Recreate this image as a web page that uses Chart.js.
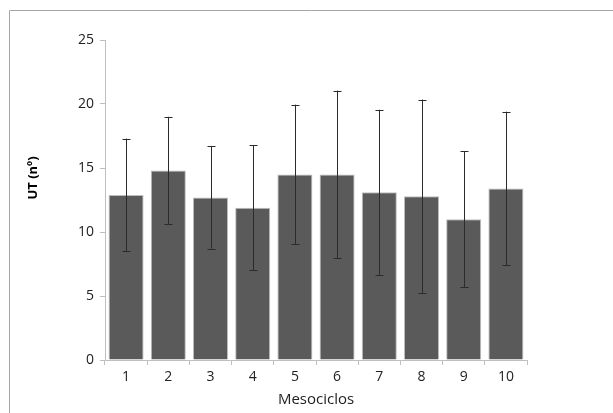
<!DOCTYPE html>
<html>
<head>
<meta charset="utf-8">
<script src="https://cdn.jsdelivr.net/npm/chart.js@4/dist/chart.umd.min.js"></script>
<style>
  html, body { margin: 0; padding: 0; background: #fff; }
  #wrap { width: 613px; height: 413px; position: relative; }
</style>
</head>
<body>
<div id="wrap"><canvas id="chart" width="613" height="413"></canvas></div>
<script>
// Data
const mesociclos = ['1', '2', '3', '4', '5', '6', '7', '8', '9', '10'];
const utMedia = [12.9, 14.8, 12.7, 11.9, 14.5, 14.5, 13.1, 12.8, 11.0, 13.4];
const utSD = [4.4, 4.2, 4.0, 4.9, 5.45, 6.55, 6.45, 7.55, 5.3, 6.0];
const yTicks = [0, 5, 10, 15, 20, 25];

const FONT = '"Open Sans", "Liberation Sans", sans-serif';

// frame + error bars + y title
const extras = {
  id: 'extras',
  beforeDraw(chart) {
    const c = chart.ctx;
    c.save();
    c.strokeStyle = '#a6a6a6';
    c.lineWidth = 1;
    c.beginPath();
    c.moveTo(9.5, 413);
    c.lineTo(9.5, 10.5);
    c.lineTo(613, 10.5);
    c.stroke();
    c.restore();
  },
  afterDatasetsDraw(chart) {
    const c = chart.ctx;
    const x = chart.scales.x, y = chart.scales.y;
    c.save();
    c.strokeStyle = '#2b2b2b';
    c.lineWidth = 1;
    utMedia.forEach((m, i) => {
      const px = Math.round(x.getPixelForValue(i)) + 0.5;
      const top = y.getPixelForValue(m + utSD[i]);
      const bot = y.getPixelForValue(m - utSD[i]);
      c.beginPath();
      c.moveTo(px, top); c.lineTo(px, bot);
      c.moveTo(px - 4, Math.round(top) + 0.5); c.lineTo(px + 4, Math.round(top) + 0.5);
      c.moveTo(px - 4, Math.round(bot) + 0.5); c.lineTo(px + 4, Math.round(bot) + 0.5);
      c.stroke();
    });
    // y axis title
    c.translate(33, 178);
    c.rotate(-Math.PI / 2);
    c.fillStyle = '#000';
    c.font = 'bold 13px ' + FONT;
    c.textAlign = 'center';
    c.textBaseline = 'middle';
    c.fillText('UT (nº)', 0, 0);
    c.restore();
  }
};

new Chart(document.getElementById('chart'), {
  type: 'bar',
  data: {
    labels: mesociclos,
    datasets: [{
      data: utMedia,
      backgroundColor: '#5a5a5a',
      borderColor: '#bdbdbd',
      borderWidth: 1,
      barPercentage: 0.83,
      categoryPercentage: 1.0
    }]
  },
  options: {
    responsive: false,
    animation: false,
    layout: { padding: { left: 20, right: 86, top: 40, bottom: 4 } },
    plugins: { legend: { display: false }, tooltip: { enabled: false } },
    scales: {
      x: {
        offset: true,
        grid: { offset: true, drawOnChartArea: false, color: '#bfbfbf', tickLength: 5, drawTicks: true },
        border: { color: '#bfbfbf' },
        ticks: { color: '#222', font: { family: FONT, size: 14 }, padding: 4 },
        title: { display: true, text: 'Mesociclos', color: '#222', font: { family: FONT, size: 15 }, padding: { top: 0, bottom: 0 } },
        afterFit(s) { s.height = 413 - 360 - 4; }
      },
      y: {
        min: 0, max: 25,
        afterBuildTicks(s) { s.ticks = yTicks.map(v => ({ value: v })); },
        grid: { drawOnChartArea: false, color: '#bfbfbf', tickLength: 5 },
        border: { color: '#bfbfbf' },
        ticks: { color: '#222', font: { family: FONT, size: 14 }, padding: 6 },
        afterFit(s) { s.width = 105 - 20; }
      }
    }
  },
  plugins: [extras]
});
</script>
</body>
</html>
